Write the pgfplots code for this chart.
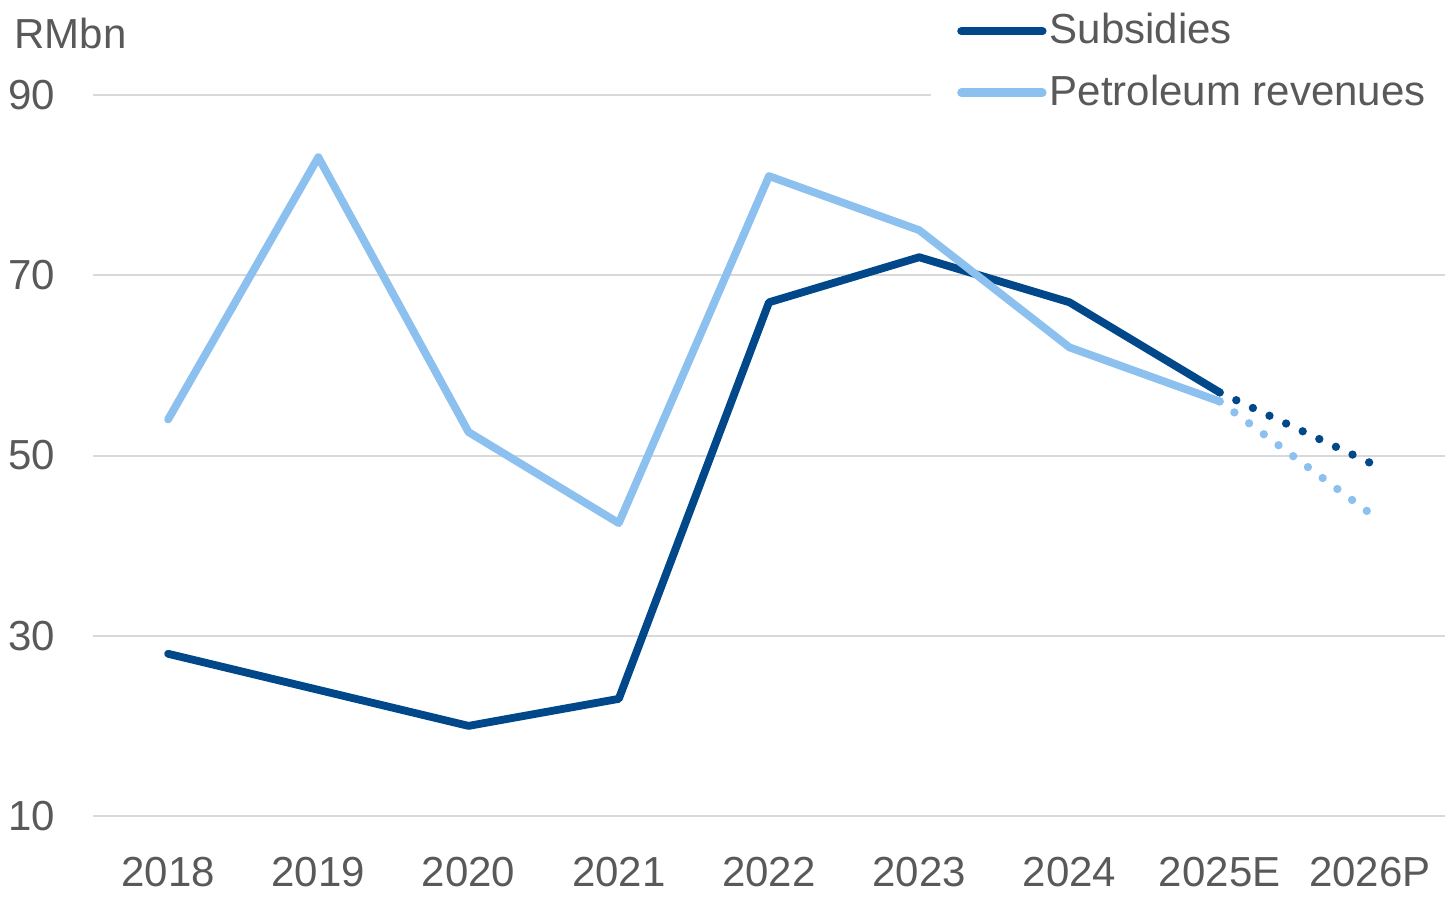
\documentclass[border=0pt]{standalone}
\usepackage{pgfplots}
\pgfplotsset{compat=1.18}
\usepackage{fontspec}
\setmainfont{Liberation Sans}
\definecolor{subs}{RGB}{0,72,138}
\definecolor{petro}{RGB}{140,192,238}
\definecolor{txt}{RGB}{89,89,89}
\definecolor{grd}{RGB}{217,217,217}

\begin{document}
\begin{tikzpicture}
\begin{axis}[
    width=405.6pt, height=216.3pt, scale only axis,
    xmin=-0.5, xmax=8.5, ymin=10, ymax=90,
    axis line style={draw=none},
    major tick length=0pt,
    xtick={0,...,8},
    xticklabels={2018,2019,2020,2021,2022,2023,2024,2025E,2026P},
    ytick={10,30,50,70,90},
    ymajorgrids,
    grid style={grd, line width=0.6pt},
    tick label style={font=\fontsize{12.6}{15}\selectfont, text=txt},
    /pgf/number format/assume math mode=true,
    yticklabel style={inner xsep=2.4pt, xshift=-8.7pt},
    xticklabel style={yshift=-8.9pt},
    clip=false,
    legend style={at={(axis description cs:0.619,1.1376)}, anchor=north west,
        draw=none, fill=white, font=\fontsize{12.6}{15}\selectfont, text=txt,
        inner xsep=8pt, inner ysep=4.1pt, row sep=5.8pt,
        nodes={inner sep=1pt}},
    legend cell align=left,
    legend image code/.code={\draw[#1, line width=2.5pt, line cap=round] (0pt,0pt) -- (24.3pt,0pt);},
]
\addplot[subs, line width=2.35pt, line join=round, line cap=round] coordinates {
    (0,28) (1,24) (2,20) (3,23) (4,67) (5,72) (6,67) (7,57)
};
\addlegendentry{Subsidies}
\addplot[petro, line width=2.35pt, line join=round, line cap=round] coordinates {
    (0,54) (1,83.1) (2,52.6) (3,42.5) (4,81) (5,75) (6,62) (7,56)
};
\addlegendentry{Petroleum revenues}
\addplot[subs, line width=2.5pt, line cap=round, dash pattern=on 0pt off 5.5pt, forget plot] coordinates {
    (7,57) (8,49.2)
};
\addplot[petro, line width=2.5pt, line cap=round, dash pattern=on 0pt off 5.5pt, forget plot] coordinates {
    (7,56) (8,43.6)
};
\node[anchor=base west, text=txt, font=\fontsize{12.6}{15}\selectfont, inner sep=0pt]
    at (rel axis cs:0,1) [xshift=-23.7pt, yshift=14.1pt] {RMbn};
\end{axis}
\pgfresetboundingbox
\path[use as bounding box] ([xshift=-27.9pt, yshift=-25.5pt]current axis.south west)
    rectangle ([xshift=1.8pt, yshift=28.5pt]current axis.north east);
\end{tikzpicture}
\end{document}
